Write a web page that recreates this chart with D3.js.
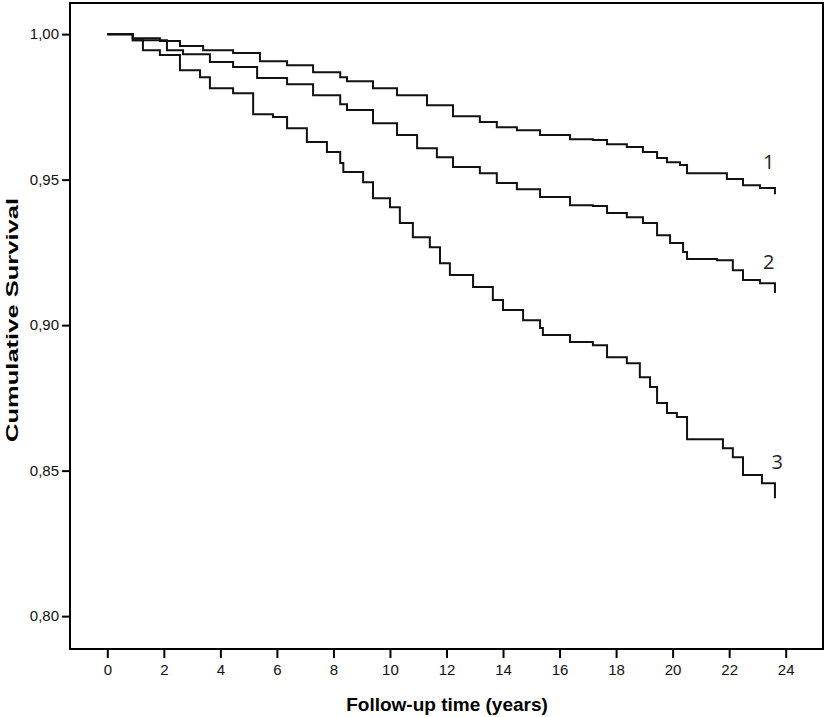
<!DOCTYPE html>
<html>
<head>
<meta charset="utf-8">
<script src="https://cdn.jsdelivr.net/npm/d3@7/dist/d3.min.js"></script>
<style>
  body { margin: 0; background: #fff; }
  svg { display: block; }
  .tick text { font-family: "Liberation Sans", Arial, sans-serif; font-size: 15px; fill: #111; }
</style>
</head>
<body>
<svg id="chart" width="827" height="717"></svg>
<script>
// Kaplan-Meier estimates: [years, cumulative survival]
var group1 = [
  [0, 1.0], [0.90, 0.9986], [1.86, 0.9976], [2.57, 0.9959], [3.39, 0.9945], [4.45, 0.9935],
  [5.40, 0.9907], [6.36, 0.9893], [7.28, 0.9869], [8.24, 0.9852], [8.48, 0.9838], [9.40, 0.9814],
  [10.25, 0.9790], [11.31, 0.9756], [12.23, 0.9718], [13.18, 0.9698], [13.78, 0.9680], [14.49, 0.9670],
  [15.31, 0.9653], [16.37, 0.9639], [17.18, 0.9636], [17.68, 0.9622], [18.38, 0.9612], [18.95, 0.9595],
  [19.45, 0.9574], [19.80, 0.9560], [20.26, 0.9550], [20.51, 0.9522], [21.92, 0.9502], [22.49, 0.9481],
  [23.09, 0.9471], [23.62, 0.9450]
];
var group2 = [
  [0, 1.0], [0.90, 0.9979], [2.11, 0.9945], [2.68, 0.9931], [3.63, 0.9904], [4.45, 0.9887],
  [5.30, 0.9849], [6.36, 0.9828], [7.28, 0.9790], [8.24, 0.9759], [8.48, 0.9739], [9.40, 0.9694],
  [10.25, 0.9653], [10.96, 0.9608], [11.66, 0.9577], [12.23, 0.9543], [13.18, 0.9522], [13.78, 0.9488],
  [14.49, 0.9467], [15.31, 0.9440], [16.37, 0.9412], [17.18, 0.9409], [17.68, 0.9385], [18.38, 0.9371],
  [18.95, 0.9351], [19.45, 0.9309], [19.91, 0.9282], [20.37, 0.9251], [20.51, 0.9227], [21.57, 0.9223],
  [22.13, 0.9189], [22.49, 0.9155], [23.09, 0.9144], [23.62, 0.9110]
];
var group3 = [
  [0, 1.0], [0.90, 0.9979], [1.26, 0.9945], [1.86, 0.9928], [2.57, 0.9876], [3.28, 0.9852],
  [3.63, 0.9814], [4.45, 0.9797], [5.16, 0.9725], [5.86, 0.9715], [6.36, 0.9677], [7.06, 0.9629],
  [7.77, 0.9595], [8.24, 0.9557], [8.35, 0.9526], [9.05, 0.9491], [9.40, 0.9436], [10.00, 0.9405],
  [10.35, 0.9351], [10.81, 0.9302], [11.41, 0.9268], [11.77, 0.9213], [12.12, 0.9172], [12.94, 0.9131],
  [13.64, 0.9086], [14.00, 0.9052], [14.71, 0.9017], [15.31, 0.8990], [15.41, 0.8966], [16.37, 0.8942],
  [17.18, 0.8931], [17.68, 0.8890], [18.38, 0.8869], [18.84, 0.8821], [19.20, 0.8787], [19.45, 0.8732],
  [19.80, 0.8698], [20.15, 0.8684], [20.51, 0.8608], [21.78, 0.8577], [22.13, 0.8546], [22.49, 0.8485],
  [23.16, 0.8457], [23.62, 0.8405]
];

var xTicks = [0, 2, 4, 6, 8, 10, 12, 14, 16, 18, 20, 22, 24];
var yTicks = [0.80, 0.85, 0.90, 0.95, 1.00];

// curve labels: [text, years, survival]
var curveLabels = [["1", 23.4, 0.9536], ["2", 23.4, 0.9192], ["3", 23.7, 0.8505]];

var svg = d3.select("#chart");
var plotL = 70, plotT = 3, plotR = 823, plotB = 649;

var x = d3.scaleLinear().domain([-1.32, 25.32]).range([plotL, plotR]);
var y = d3.scaleLinear().domain([0.7887, 1.0107]).range([plotB, plotT]);

var fmt = d3.format(".2f");

// y axis
var yAxis = svg.append("g")
  .attr("transform", "translate(" + plotL + ",0)")
  .call(d3.axisLeft(y).tickValues(yTicks).tickSize(8).tickPadding(3)
    .tickFormat(function(d){ return fmt(d).replace(".", ","); }));
yAxis.select(".domain").remove();
yAxis.selectAll(".tick line").attr("stroke", "#000").attr("stroke-width", 2);

// x axis
var xAxis = svg.append("g")
  .attr("transform", "translate(0," + plotB + ")")
  .call(d3.axisBottom(x).tickValues(xTicks).tickSize(9).tickPadding(6));
xAxis.select(".domain").remove();
xAxis.selectAll(".tick line").attr("stroke", "#000").attr("stroke-width", 2);

// frame
svg.append("rect")
  .attr("x", plotL).attr("y", plotT)
  .attr("width", plotR - plotL).attr("height", plotB - plotT)
  .attr("fill", "none").attr("stroke", "#000").attr("stroke-width", 2);

// survival curves
var line = d3.line()
  .x(function(d){ return x(d[0]); })
  .y(function(d){ return y(d[1]); })
  .curve(d3.curveStepAfter);

svg.selectAll("path.km")
  .data([group1, group2, group3]).enter().append("path")
  .attr("class", "km")
  .attr("d", line)
  .attr("fill", "none")
  .attr("stroke", "#111")
  .attr("stroke-width", 2);

svg.selectAll("text.lab")
  .data(curveLabels).enter().append("text")
  .attr("class", "lab")
  .attr("x", function(d){ return x(d[1]); })
  .attr("y", function(d){ return y(d[2]); })
  .attr("text-anchor", "middle")
  .style("font-family", "'Open Sans', sans-serif")
  .style("font-size", "20px")
  .style("fill", "#222")
  .text(function(d){ return d[0]; });

// axis titles
svg.append("text")
  .attr("x", 447).attr("y", 711)
  .attr("text-anchor", "middle")
  .style("font-family", "'Liberation Sans', Arial, sans-serif")
  .style("font-weight", "bold").style("font-size", "19px")
  .text("Follow-up time (years)");

svg.append("text")
  .attr("transform", "translate(18,320) rotate(-90)")
  .attr("text-anchor", "middle")
  .attr("textLength", 244)
  .attr("lengthAdjust", "spacingAndGlyphs")
  .style("font-family", "'Liberation Sans', Arial, sans-serif")
  .style("font-weight", "bold").style("font-size", "17px")
  .text("Cumulative Survival");
</script>
</body>
</html>
